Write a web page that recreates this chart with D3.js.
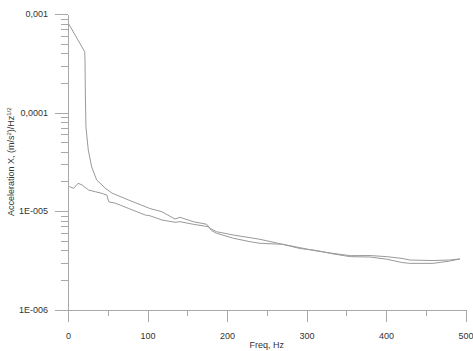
<!DOCTYPE html>
<html><head><meta charset="utf-8">
<script src="https://cdn.jsdelivr.net/npm/d3@7"></script>
<style>body{margin:0;background:#fff}svg{display:block}text{font-family:"Liberation Sans",Arial,sans-serif}</style>
</head><body><svg id="c" width="473" height="351"></svg>
<script>
// Series A: high low-frequency level, drops sharply near 22 Hz
const freqA = [1, 21, 21.4, 21.8, 22.6, 25.5, 29.8, 36.1, 42.8, 46.5, 55.3, 76.4, 96.9, 103, 118, 134.6, 140.9, 157.6, 174.5, 178.6, 187, 208, 229, 241.5, 270, 292, 313, 333, 355, 380, 401, 420, 430, 459, 480, 493];
const valA  = [7.9e-4, 4.14e-4, 3.41e-4, 1.58e-4, 7.13e-5, 4.16e-5, 2.80e-5, 2.06e-5, 1.84e-5, 1.71e-5, 1.52e-5, 1.29e-5, 1.11e-5, 1.06e-5, 9.84e-6, 8.30e-6, 8.63e-6, 7.79e-6, 7.33e-6, 6.67e-6, 6.16e-6, 5.70e-6, 5.36e-6, 5.16e-6, 4.59e-6, 4.24e-6, 3.92e-6, 3.72e-6, 3.52e-6, 3.53e-6, 3.44e-6, 3.30e-6, 3.18e-6, 3.14e-6, 3.18e-6, 3.26e-6];
// Series B: lower starting level
const freqB = [1.6, 7.2, 12.6, 17.6, 26, 34.3, 42.8, 49, 51.2, 59.5, 76.4, 97.2, 103, 118, 134.6, 140.9, 157.6, 176.5, 180.8, 187, 208, 229, 241.5, 270, 292, 313, 333, 355, 380, 401, 420, 430, 459, 480, 493];
const valB  = [1.77e-5, 1.70e-5, 1.91e-5, 1.84e-5, 1.63e-5, 1.57e-5, 1.51e-5, 1.45e-5, 1.24e-5, 1.20e-5, 1.06e-5, 9.10e-6, 8.95e-6, 8.11e-6, 7.68e-6, 7.79e-6, 7.33e-6, 6.93e-6, 6.31e-6, 5.94e-6, 5.29e-6, 4.88e-6, 4.70e-6, 4.59e-6, 4.16e-6, 3.97e-6, 3.67e-6, 3.44e-6, 3.41e-6, 3.24e-6, 3.00e-6, 2.94e-6, 2.94e-6, 3.10e-6, 3.26e-6];

const xMajor = [0, 100, 200, 300, 400, 500];
const xMinor = [50, 150, 250, 350, 450];
const yMajor = [1e-3, 1e-4, 1e-5, 1e-6];
const yMajorLabels = ["0,001", "0,0001", "1E-005", "1E-006"];

const svg = d3.select("#c");
const x = d3.scaleLinear().domain([0, 500]).range([68, 465.5]);
const y = d3.scaleLog().domain([1e-6, 1e-3]).range([309.5, 14]);

const yMinor = [];
[1e-6, 1e-5, 1e-4].forEach(d => { for (let k = 2; k <= 9; k++) yMinor.push(d * k); });

const axisColor = "#a8a8a8";
const textColor = "#333";

function style(g) {
  g.selectAll("path,line").attr("stroke", axisColor).attr("shape-rendering", "crispEdges");
  g.selectAll("text").attr("fill", textColor).style("font-size", "9px").style("font-family", '"Liberation Sans",Arial,sans-serif');
}

// X axis
svg.append("g").attr("transform", `translate(0,${y(1e-6)})`)
  .call(d3.axisBottom(x).tickValues(xMinor).tickSize(6).tickSizeOuter(0).tickFormat(""))
  .call(g => g.select(".domain").remove())
  .call(style);
svg.append("g").attr("transform", `translate(0,${y(1e-6)})`)
  .call(d3.axisBottom(x).tickValues(xMajor).tickSize(12).tickSizeOuter(0).tickPadding(11).tickFormat(d3.format("d")))
  .call(style);

// Y axis
svg.append("g").attr("transform", `translate(${x(0)},0)`)
  .call(d3.axisLeft(y).tickValues(yMinor).tickSize(7).tickSizeOuter(0).tickFormat(""))
  .call(g => g.select(".domain").remove())
  .call(style);
svg.append("g").attr("transform", `translate(${x(0)},0)`)
  .call(d3.axisLeft(y).tickValues(yMajor).tickSize(13).tickSizeOuter(0).tickPadding(7)
    .tickFormat((d, i) => yMajorLabels[i]))
  .call(style);

// Lines
const line = d3.line().x(d => x(d[0])).y(d => y(d[1]));
svg.append("path").datum(freqA.map((f, i) => [f, valA[i]]))
  .attr("d", line).attr("fill", "none").attr("stroke", "#9a9a9a").attr("stroke-width", 1);
svg.append("path").datum(freqB.map((f, i) => [f, valB[i]]))
  .attr("d", line).attr("fill", "none").attr("stroke", "#9a9a9a").attr("stroke-width", 1);

// Axis titles
svg.append("text").attr("x", (x(0) + x(500)) / 2).attr("y", 348)
  .attr("text-anchor", "middle").attr("fill", textColor).style("font-size", "9px").text("Freq, Hz");

const yt = svg.append("text").attr("transform", `translate(14,${(y(1e-3) + y(1e-6)) / 2}) rotate(-90)`)
  .attr("text-anchor", "middle").attr("fill", textColor).style("font-size", "9px");
yt.append("tspan").text("Acceleration X, (m/s");
yt.append("tspan").attr("dy", -3).style("font-size", "6px").text("2");
yt.append("tspan").attr("dy", 3).text(")/Hz");
yt.append("tspan").attr("dy", -3).style("font-size", "6px").text("1/2");
</script></body></html>
